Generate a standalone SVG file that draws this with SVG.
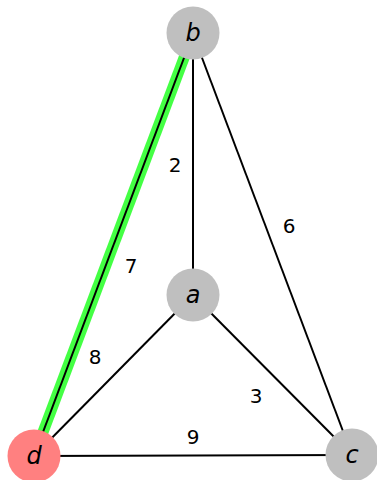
<svg xmlns="http://www.w3.org/2000/svg" width="377" height="480" viewBox="0 0 377 480">
<style>
.e{stroke:#000;stroke-width:2;fill:none}
.hl{stroke:#44ff44;stroke-width:11;fill:none}
.n{fill:#bfbfbf}
.nl{font-family:"DejaVu Sans",sans-serif;font-style:italic;font-size:24px;text-anchor:middle;dominant-baseline:central;fill:#000}
.w{font-family:"DejaVu Sans",sans-serif;font-size:20px;text-anchor:middle;dominant-baseline:central;fill:#000}
</style>
<rect width="377" height="480" fill="#fff"/>
<g id="connectors">
<line class="hl" x1="193" y1="34" x2="34" y2="456"/>
<line class="e" x1="193" y1="34" x2="34" y2="456"/>
<line class="e" x1="193" y1="34" x2="193" y2="295"/>
<line class="e" x1="193" y1="34" x2="352" y2="455"/>
<line class="e" x1="193" y1="295" x2="34" y2="456"/>
<line class="e" x1="193" y1="295" x2="352" y2="455"/>
<line class="e" x1="34" y1="456" x2="352" y2="455"/>
<text class="w" x="175" y="165">2</text>
<text class="w" x="289" y="226">6</text>
<text class="w" x="131" y="266">7</text>
<text class="w" x="95" y="357">8</text>
<text class="w" x="256" y="396">3</text>
<text class="w" x="193" y="437">9</text>
</g>
<g id="b"><circle class="n" cx="193" cy="33" r="26.5"/><text class="nl" x="193" y="33">b</text></g>
<g id="a"><circle class="n" cx="193" cy="295" r="26.5"/><text class="nl" x="193" y="295">a</text></g>
<g id="d"><circle cx="34" cy="456" r="26.5" fill="#ff8080"/><text class="nl" x="34" y="456">d</text></g>
<g id="c"><circle class="n" cx="352" cy="455" r="26.5"/><text class="nl" x="352" y="455">c</text></g>
</svg>
